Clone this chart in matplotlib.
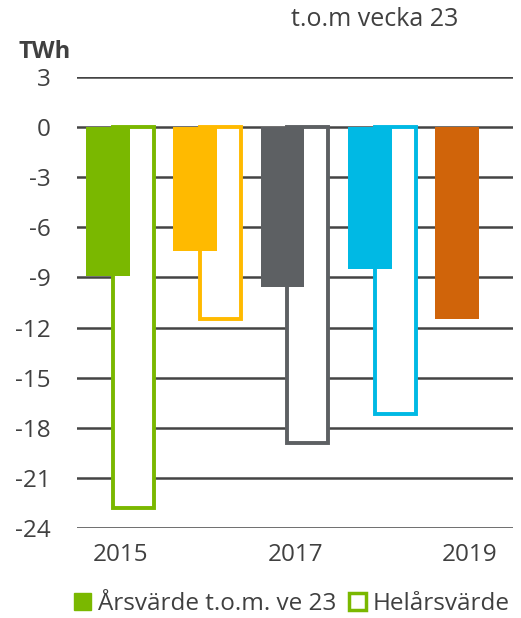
import numpy as np
import matplotlib
matplotlib.use("Agg")
import matplotlib.pyplot as plt
from matplotlib.patches import Patch

YEARS      = ["2015", "2016", "2017", "2018", "2019"]
TOM_V23    = [-8.9, -7.4, -9.6, -8.5, -11.5]     # Årsvärde t.o.m. ve 23
HELAR      = [-22.8, -11.5, -18.9, -17.2, np.nan]  # Helårsvärde
COLORS     = ["#7AB800", "#FFBA00", "#5D6063", "#00B9E4", "#D0640A"]
XTICK_SHOW = ["2015", "", "2017", "", "2019"]
YTICKS     = [3, 0, -3, -6, -9, -12, -15, -18, -21, -24]

TXT = "#404040"
plt.rcParams["font.family"] = ["Open Sans", "DejaVu Sans"]

fig = plt.figure(figsize=(5.21, 6.18), dpi=100)
ax = fig.add_axes([0.148, 0.146, 0.837, 0.729])

x = np.arange(len(YEARS))
w = 0.5
off = 0.145

# outline bars first, filled bars drawn on top (overlap)
for xi, v, c in zip(x, HELAR, COLORS):
    if np.isnan(v):
        continue
    ax.bar(xi + off, v, width=w - 0.03, facecolor="white", edgecolor=c,
           linewidth=2.8, zorder=2)
for xi, v, c in zip(x, TOM_V23, COLORS):
    ax.bar(xi - off, v, width=w, color=c, zorder=3)

ax.set_xlim(-0.5, len(YEARS) - 0.5)
ax.set_ylim(-24, 3)
ax.set_yticks(YTICKS)
ax.set_yticklabels([str(t) for t in YTICKS])
ax.set_xticks(x)
ax.set_xticklabels(XTICK_SHOW)
ax.grid(axis="y", color="#444444", linewidth=1.8, zorder=0)
ax.set_axisbelow(True)
for s in ax.spines.values():
    s.set_visible(False)
ax.tick_params(axis="both", length=0, labelsize=17.5, colors=TXT)
ax.tick_params(axis="y", pad=19)
ax.tick_params(axis="x", pad=11)

fig.text(0.72, 0.968, "t.o.m vecka 23", ha="center", va="center",
         fontsize=18, color=TXT)
fig.text(0.085, 0.916, "TWh", ha="center", va="center",
         fontsize=17, fontweight="bold", color=TXT)

handles = [Patch(facecolor=COLORS[0], edgecolor=COLORS[0]),
           Patch(facecolor="white", edgecolor=COLORS[0], linewidth=2.5)]
fig.legend(handles, ["Årsvärde t.o.m. ve 23", "Helårsvärde"],
           loc="center", bbox_to_anchor=(0.56, 0.022), ncol=2, frameon=False,
           fontsize=17.5, labelcolor=TXT, handlelength=0.7, handleheight=0.7,
           handletextpad=0.3, columnspacing=0.5, borderaxespad=0)

fig.savefig("out.png", dpi=100)
